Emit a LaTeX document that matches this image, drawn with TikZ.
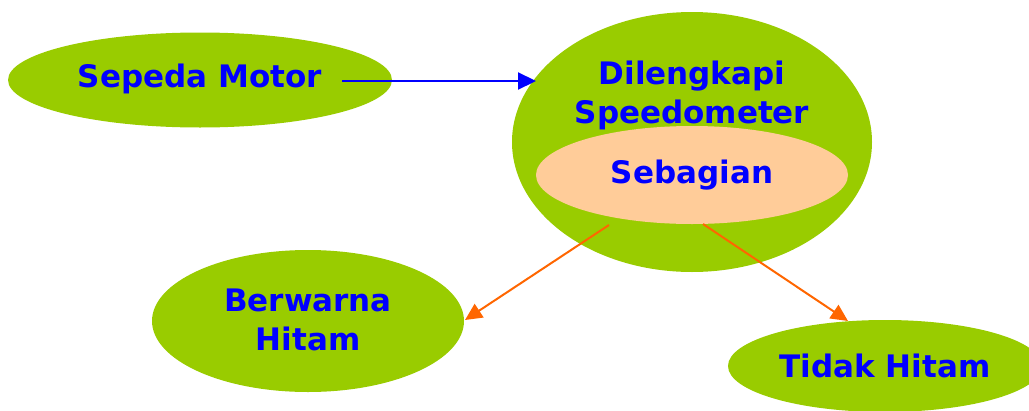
\documentclass[tikz,border=0pt]{standalone}
\usepackage{fontspec}
\setmainfont{DejaVu Sans}
\usetikzlibrary{shapes.geometric,arrows.meta}
\definecolor{lgreen}{RGB}{153,204,0}
\definecolor{peach}{RGB}{255,204,153}
\definecolor{tblue}{RGB}{0,0,255}
\definecolor{torange}{RGB}{255,102,0}
\begin{document}
\begin{tikzpicture}[x=1pt,y=-1pt,
  blob/.style={ellipse,fill=lgreen,draw=none,inner sep=0pt},
  lbl/.style={text=tblue,font=\fontsize{31}{39}\selectfont\bfseries,align=center,inner sep=0pt},
  bluearrow/.style={draw=tblue,line width=2.2pt,-{Triangle[length=18pt,width=17pt]}},
  orangearrow/.style={draw=torange,line width=2pt,-{Triangle[length=17pt,width=16pt]}}]
\useasboundingbox (0,0) rectangle (1029,410);
\clip (0,0) rectangle (1029,410);
\node[blob,minimum width=384pt,minimum height=95pt] (moto) at (200,80) {};
\node[blob,minimum width=360pt,minimum height=260pt] (big) at (692,142) {};
\node[ellipse,fill=peach,inner sep=0pt,minimum width=312pt,minimum height=98pt] (seb) at (692,175) {};
\node[blob,minimum width=312pt,minimum height=142pt] (berw) at (308,321) {};
\node[blob,minimum width=314pt,minimum height=92pt] (tidak) at (885,366) {};
\node[lbl] (tmoto) at (200,79) {Sepeda Motor};
\node[lbl] (tbig) at (692,95) {Dilengkapi\\Speedometer};
\node[lbl] (tseb) at (692,175) {Sebagian};
\node[lbl] (tberw) at (308,320) {Berwarna\\Hitam};
\node[lbl] (ttidak) at (885,366) {Tidak Hitam};
\coordinate (m1) at (342,81);
\coordinate (m2) at (536,81);
\coordinate (s1) at (609,225);
\coordinate (b1) at (465,320);
\coordinate (s2) at (703,224);
\coordinate (t1) at (848,321);
\draw[bluearrow] (m1) -- (m2);
\draw[orangearrow] (s1) -- (b1);
\draw[orangearrow] (s2) -- (t1);
\end{tikzpicture}
\end{document}
